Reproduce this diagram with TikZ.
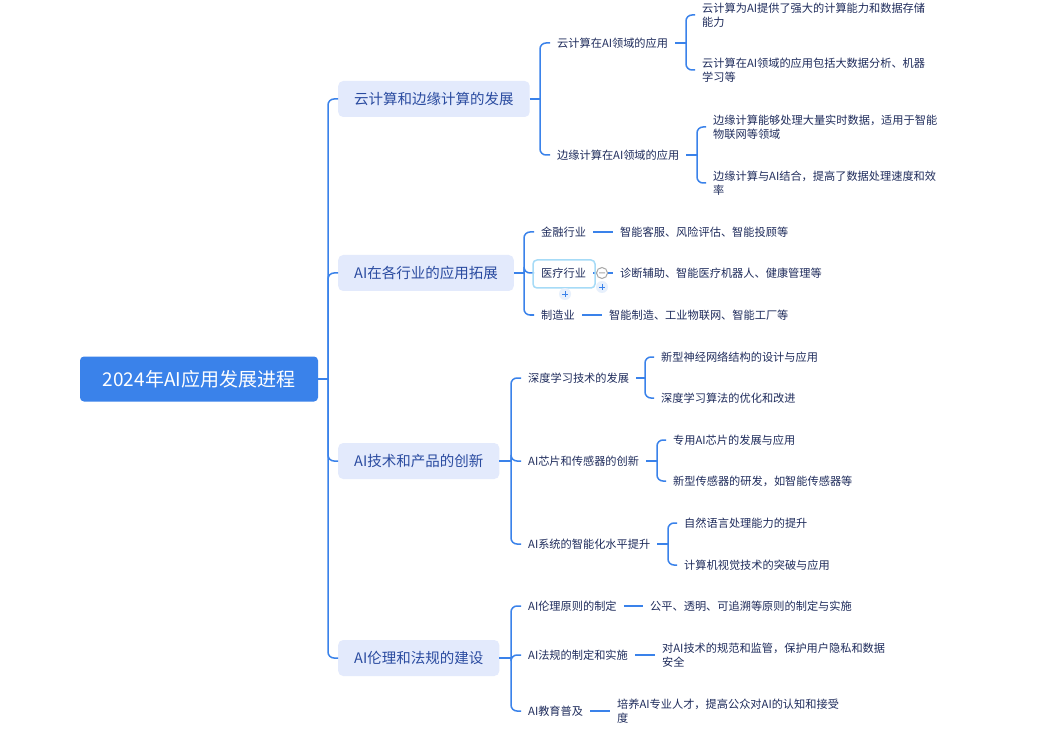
\documentclass[tikz,border=0pt]{standalone}
\usepackage{fontspec}
\setmainfont{Noto Sans CJK SC}
\definecolor{lnk}{HTML}{3A82EA}
\definecolor{tbox}{HTML}{E3EAFC}
\definecolor{ttop}{HTML}{2A4BA0}
\definecolor{ttxt}{HTML}{1F2C5C}
\definecolor{sel}{HTML}{A6DBF7}
\tikzset{
rootbox/.style={fill=lnk,rounded corners=4pt,text=white,font=\fontsize{19}{22}\selectfont,minimum width=238pt,minimum height=45pt},
topbox/.style={fill=tbox,rounded corners=5pt,text=ttop,font=\fontsize{14.5}{17}\selectfont,minimum height=36pt,inner xsep=16pt,anchor=west},
leaf/.style={text=ttxt,font=\fontsize{11.2}{14}\selectfont,anchor=west,align=left,inner xsep=7pt,inner ysep=2pt},
conn/.style={draw=lnk,line width=1.5pt,rounded corners=6pt},
plusmark/.style={fill=lnk!12,draw=none}
}
\begin{document}
\begin{tikzpicture}[x=1pt,y=-1pt]
\fill[white](0,0)rectangle(1060,735);
\useasboundingbox(0,0)rectangle(1060,735);
\node[rootbox](root)at(199,379){2024年AI应用发展进程};
% first level
\node[topbox](a)at(338,99){云计算和边缘计算的发展};
\node[topbox](b)at(338,273){AI在各行业的应用拓展};
\node[topbox](c)at(338,461){AI技术和产品的创新};
\node[topbox](d)at(338,658){AI伦理和法规的建设};
% second level
\node[leaf](a1)at(550,43){云计算在AI领域的应用};
\node[leaf](a2)at(550,155){边缘计算在AI领域的应用};
\node[leaf](b1)at(534,232){金融行业};
\node[leaf](b2)at(534,273){医疗行业};
\node[leaf](b3)at(534,315){制造业};
\node[leaf](c1)at(521,378){深度学习技术的发展};
\node[leaf](c2)at(521,461){AI芯片和传感器的创新};
\node[leaf](c3)at(521,544){AI系统的智能化水平提升};
\node[leaf](d1)at(521,606){AI伦理原则的制定};
\node[leaf](d2)at(521,655){AI法规的制定和实施};
\node[leaf](d3)at(521,711){AI教育普及};
% third level
\node[leaf](a11)at(695,15){云计算为AI提供了强大的计算能力和数据存储\\能力};
\node[leaf](a12)at(695,70){云计算在AI领域的应用包括大数据分析、机器\\学习等};
\node[leaf](a21)at(706,127){边缘计算能够处理大量实时数据，适用于智能\\物联网等领域};
\node[leaf](a22)at(706,183){边缘计算与AI结合，提高了数据处理速度和效\\率};
\node[leaf](b11)at(613,232){智能客服、风险评估、智能投顾等};
\node[leaf](b21)at(613,273){诊断辅助、智能医疗机器人、健康管理等};
\node[leaf](b31)at(602,315){智能制造、工业物联网、智能工厂等};
\node[leaf](c11)at(654,357){新型神经网络结构的设计与应用};
\node[leaf](c12)at(654,398){深度学习算法的优化和改进};
\node[leaf](c21)at(666,440){专用AI芯片的发展与应用};
\node[leaf](c22)at(666,481){新型传感器的研发，如智能传感器等};
\node[leaf](c31)at(677,523){自然语言处理能力的提升};
\node[leaf](c32)at(677,565){计算机视觉技术的突破与应用};
\node[leaf](d11)at(643,606){公平、透明、可追溯等原则的制定与实施};
\node[leaf](d21)at(655,655){对AI技术的规范和监管，保护用户隐私和数据\\安全};
\node[leaf](d31)at(610,711){培养AI专业人才，提高公众对AI的认知和接受\\度};
% connectors
\coordinate(t)at([xshift=-10]a.west|-root.east);
\draw[conn](root.east)--(t);
\foreach \c in{a,b,c,d}\draw[conn](t)|-(\c.west);
\foreach \p/\l in{a/{a1,a2},b/{b1,b2,b3},c/{c1,c2,c3},d/{d1,d2,d3}}{
\coordinate(q)at([xshift=-10]\p1.west|-\p.east);
\draw[conn](\p.east)--(q);
\foreach \c in \l\draw[conn](q)|-(\c.west);}
\foreach \p/\a/\b in{a1/a11/a12,a2/a21/a22,c1/c11/c12,c2/c21/c22,c3/c31/c32}{
\coordinate(q)at([xshift=-9]\a.west|-\p.east);
\draw[conn](\p.east)--(q);
\draw[conn](q)|-(\a.west)(q)|-(\b.west);}
\foreach \p/\c in{b1/b11,b2/b21,b3/b31,d1/d11,d2/d21,d3/d31}
\draw[conn](\p.east)--(\c.west);
% selected node
\draw[sel,line width=1.5pt,rounded corners=4pt](533,260)rectangle(595,288);
\draw[gray!70,fill=white,line width=1pt](602,273)circle(5.5)(599,273)--(605,273);
\fill[plusmark](565,294)circle(6)(602,287)circle(6);
\draw[lnk,line width=0.8pt](562,294)--(568,294)(565,291)--(565,297)(599,287)--(605,287)(602,284)--(602,290);
\end{tikzpicture}
\end{document}
